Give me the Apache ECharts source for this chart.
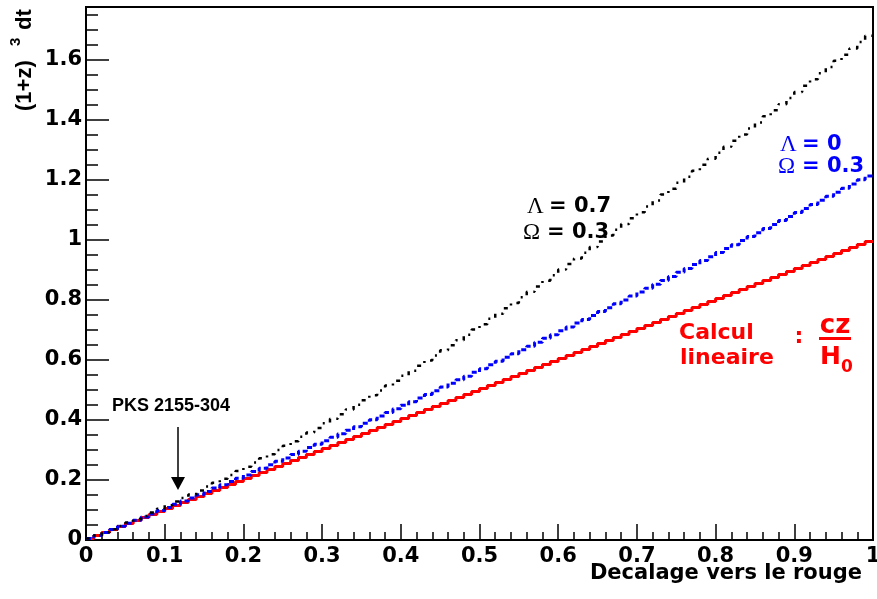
<!DOCTYPE html>
<html>
<head>
<meta charset="utf-8">
<script src="https://cdn.jsdelivr.net/npm/echarts@6/dist/echarts.min.js"></script>
<style>
html,body{margin:0;padding:0;background:#fff;}
#chart{width:877px;height:599px;}
</style>
</head>
<body>
<div id="chart"></div>
<script>
// ---- data (bin width 0.01 in z, 100 bins from 0 to 1) ----
const binCount = 100;
const zMin = 0, zMax = 1;
const redValues = [
0.005,0.015,0.025,0.035,0.045,0.055,0.065,0.075,0.085,0.095,
0.105,0.115,0.125,0.135,0.145,0.155,0.165,0.175,0.185,0.195,
0.205,0.215,0.225,0.235,0.245,0.255,0.265,0.275,0.285,0.295,
0.305,0.315,0.325,0.335,0.345,0.355,0.365,0.375,0.385,0.395,
0.405,0.415,0.425,0.435,0.445,0.455,0.465,0.475,0.485,0.495,
0.505,0.515,0.525,0.535,0.545,0.555,0.565,0.575,0.585,0.595,
0.605,0.615,0.625,0.635,0.645,0.655,0.665,0.675,0.685,0.695,
0.705,0.715,0.725,0.735,0.745,0.755,0.765,0.775,0.785,0.795,
0.805,0.815,0.825,0.835,0.845,0.855,0.865,0.875,0.885,0.895,
0.905,0.915,0.925,0.935,0.945,0.955,0.965,0.975,0.985,0.995];
const blueValues = [
0.005,0.015,0.025,0.035,0.046,0.056,0.066,0.077,0.087,0.098,
0.108,0.119,0.130,0.140,0.151,0.162,0.173,0.184,0.195,0.206,
0.217,0.228,0.239,0.251,0.262,0.273,0.285,0.296,0.308,0.319,
0.331,0.342,0.354,0.366,0.377,0.389,0.401,0.413,0.425,0.437,
0.449,0.461,0.473,0.485,0.497,0.510,0.522,0.534,0.546,0.559,
0.571,0.584,0.596,0.609,0.621,0.634,0.646,0.659,0.672,0.684,
0.697,0.710,0.723,0.735,0.748,0.761,0.774,0.787,0.800,0.813,
0.826,0.839,0.852,0.865,0.878,0.892,0.905,0.918,0.931,0.944,
0.958,0.971,0.984,0.998,1.011,1.024,1.038,1.051,1.065,1.078,
1.091,1.105,1.118,1.132,1.145,1.159,1.172,1.186,1.200,1.213];
const blackValues = [
0.005,0.015,0.026,0.036,0.047,0.058,0.069,0.080,0.092,0.104,
0.116,0.128,0.140,0.152,0.165,0.178,0.191,0.204,0.217,0.230,
0.244,0.258,0.272,0.286,0.300,0.314,0.329,0.344,0.358,0.373,
0.389,0.404,0.419,0.435,0.451,0.466,0.482,0.498,0.515,0.531,
0.547,0.564,0.581,0.598,0.615,0.632,0.649,0.666,0.684,0.701,
0.719,0.737,0.754,0.772,0.790,0.809,0.827,0.845,0.864,0.882,
0.901,0.920,0.938,0.957,0.976,0.995,1.015,1.034,1.053,1.072,
1.092,1.111,1.131,1.151,1.170,1.190,1.210,1.230,1.250,1.270,
1.290,1.310,1.330,1.351,1.371,1.391,1.412,1.432,1.452,1.473,
1.493,1.514,1.535,1.555,1.576,1.597,1.617,1.638,1.659,1.680];
const xTickValues = [0,0.1,0.2,0.3,0.4,0.5,0.6,0.7,0.8,0.9,1];
const xTickLabels = ['0','0.1','0.2','0.3','0.4','0.5','0.6','0.7','0.8','0.9','1'];
const yTickValues = [0,0.2,0.4,0.6,0.8,1,1.2,1.4,1.6];
const yTickLabels = ['0','0.2','0.4','0.6','0.8','1','1.2','1.4','1.6'];
const yMax = 1.776;
const xTitle = 'Decalage vers le rouge';
const annPKS = 'PKS 2155-304';

// ---- build step data from histogram bins ----
function histData(vals) {
  const out = [];
  for (let i = 0; i <= binCount; i++) {
    const edge = +(zMin + (zMax - zMin) * i / binCount).toFixed(4);
    out.push([edge, vals[Math.min(i, binCount - 1)]]);
  }
  return out;
}
function lookup(values, labels) {
  return function (v) {
    for (let i = 0; i < values.length; i++) if (Math.abs(values[i] - v) < 1e-6) return labels[i];
    return '';
  };
}

const tickFont = {fontFamily: 'DejaVu Sans', fontWeight: 'bold', fontSize: 21, color: '#000'};
const chart = echarts.init(document.getElementById('chart'), null, {renderer: 'canvas'});

const boldDV = (size) => 'bold ' + size + 'px "DejaVu Sans"';
const boldLS = (size) => 'bold ' + size + 'px "Liberation Sans"';
const serif = (size) => size + 'px "Liberation Serif"';

chart.setOption({
  animation: false,
  backgroundColor: '#fff',
  grid: {left: 86, right: 4, top: 7, bottom: 59, containLabel: false, outerBoundsMode: 'none',
         show: true, borderColor: '#000', borderWidth: 2, backgroundColor: 'transparent'},
  xAxis: {
    type: 'value', min: zMin, max: zMax, interval: 0.1,
    axisLine: {show: true, onZero: false, lineStyle: {color: '#000', width: 2}},
    axisTick: {show: true, inside: true, length: 16, lineStyle: {color: '#000', width: 1.5}},
    minorTick: {show: true, splitNumber: 5, length: 8, lineStyle: {color: '#000', width: 1.5}},
    splitLine: {show: false},
    axisLabel: Object.assign({margin: 6, hideOverlap: false, formatter: lookup(xTickValues, xTickLabels)}, tickFont)
  },
  yAxis: [{
    type: 'value', min: 0, max: yMax, interval: 0.2, position: 'left',
    axisLine: {show: true, onZero: false, lineStyle: {color: '#000', width: 2}},
    axisTick: {show: true, inside: true, length: 23, lineStyle: {color: '#000', width: 1.5}},
    splitLine: {show: false},
    axisLabel: Object.assign({margin: 4, showMaxLabel: false, formatter: lookup(yTickValues, yTickLabels)}, tickFont)
  }, {
    type: 'value', min: 0, max: yMax, interval: 0.05, position: 'left', offset: 0,
    axisLine: {show: false},
    axisTick: {show: true, inside: true, length: 12, lineStyle: {color: '#000', width: 1.5}},
    splitLine: {show: false},
    axisLabel: {show: false}
  }],
  series: [{
    name: 'lineaire', type: 'line', step: 'end', showSymbol: false, yAxisIndex: 0,
    data: histData(redValues),
    lineStyle: {color: '#ff0000', width: 3, type: 'solid'}
  }, {
    name: 'L0', type: 'line', step: 'end', showSymbol: false, yAxisIndex: 0,
    data: histData(blueValues),
    lineStyle: {color: '#0000ff', width: 3, type: [5, 3]}
  }, {
    name: 'L07', type: 'line', step: 'end', showSymbol: false, yAxisIndex: 0,
    data: histData(blackValues),
    lineStyle: {color: '#000', width: 2.5, type: [4, 6, 2, 6]}
  }],
  graphic: [
    // y-axis title (rotated)
    {type: 'group', x: 25, y: 111, rotation: Math.PI / 2, children: [
      {type: 'text', x: 0, y: 0, style: {text: '(1+z)', font: boldLS(22), fill: '#000', textAlign: 'left', textVerticalAlign: 'middle'}},
      {type: 'text', x: 65, y: -9.5, style: {text: '3', font: boldLS(15), fill: '#000', textAlign: 'left', textVerticalAlign: 'middle'}},
      {type: 'text', x: 81, y: 0, style: {text: 'dt', font: boldLS(22), fill: '#000', textAlign: 'left', textVerticalAlign: 'middle'}}
    ]},
    // x-axis title
    {type: 'text', x: 862, y: 574, style: {text: xTitle, font: boldDV(21), fill: '#000', textAlign: 'right', textVerticalAlign: 'middle'}},
    // PKS annotation
    {type: 'text', x: 112, y: 406, style: {text: annPKS, font: boldLS(18), fill: '#000', textAlign: 'left', textVerticalAlign: 'middle'}},
    {type: 'line', shape: {x1: 178, y1: 427, x2: 178, y2: 478}, style: {stroke: '#000', lineWidth: 1.5}},
    {type: 'polygon', shape: {points: [[171, 477], [185, 477], [178, 490]]}, style: {fill: '#000'}},
    // black label
    {type: 'text', x: 527, y: 207, style: {text: 'Λ', font: serif(23), fill: '#000', textAlign: 'left', textVerticalAlign: 'middle'}},
    {type: 'text', x: 549, y: 207, style: {text: '= 0.7', font: boldDV(21), fill: '#000', textAlign: 'left', textVerticalAlign: 'middle'}},
    {type: 'text', x: 523, y: 233, style: {text: 'Ω', font: serif(23), fill: '#000', textAlign: 'left', textVerticalAlign: 'middle'}},
    {type: 'text', x: 547, y: 233, style: {text: '= 0.3', font: boldDV(21), fill: '#000', textAlign: 'left', textVerticalAlign: 'middle'}},
    // blue label
    {type: 'text', x: 780, y: 145, style: {text: 'Λ', font: serif(23), fill: '#0000ff', textAlign: 'left', textVerticalAlign: 'middle'}},
    {type: 'text', x: 802, y: 145, style: {text: '= 0', font: boldDV(21), fill: '#0000ff', textAlign: 'left', textVerticalAlign: 'middle'}},
    {type: 'text', x: 778, y: 167, style: {text: 'Ω', font: serif(23), fill: '#0000ff', textAlign: 'left', textVerticalAlign: 'middle'}},
    {type: 'text', x: 802, y: 167, style: {text: '= 0.3', font: boldDV(21), fill: '#0000ff', textAlign: 'left', textVerticalAlign: 'middle'}},
    // red label
    {type: 'text', x: 679, y: 333, style: {text: 'Calcul', font: boldDV(22), fill: '#ff0000', textAlign: 'left', textVerticalAlign: 'middle'}},
    {type: 'text', x: 680, y: 358, style: {text: 'lineaire', font: boldDV(22), fill: '#ff0000', textAlign: 'left', textVerticalAlign: 'middle'}},
    {type: 'text', x: 799, y: 337, style: {text: ':', font: boldDV(22), fill: '#ff0000', textAlign: 'center', textVerticalAlign: 'middle'}},
    {type: 'text', x: 835, y: 326, style: {text: 'cz', font: boldDV(26), fill: '#ff0000', textAlign: 'center', textVerticalAlign: 'middle'}},
    {type: 'rect', shape: {x: 819, y: 337, width: 32, height: 3}, style: {fill: '#ff0000'}},
    {type: 'text', x: 820, y: 357, style: {text: 'H', font: boldDV(25), fill: '#ff0000', textAlign: 'left', textVerticalAlign: 'middle'}},
    {type: 'text', x: 841, y: 368, style: {text: '0', font: boldDV(17), fill: '#ff0000', textAlign: 'left', textVerticalAlign: 'middle'}}
  ]
});
</script>
</body>
</html>
